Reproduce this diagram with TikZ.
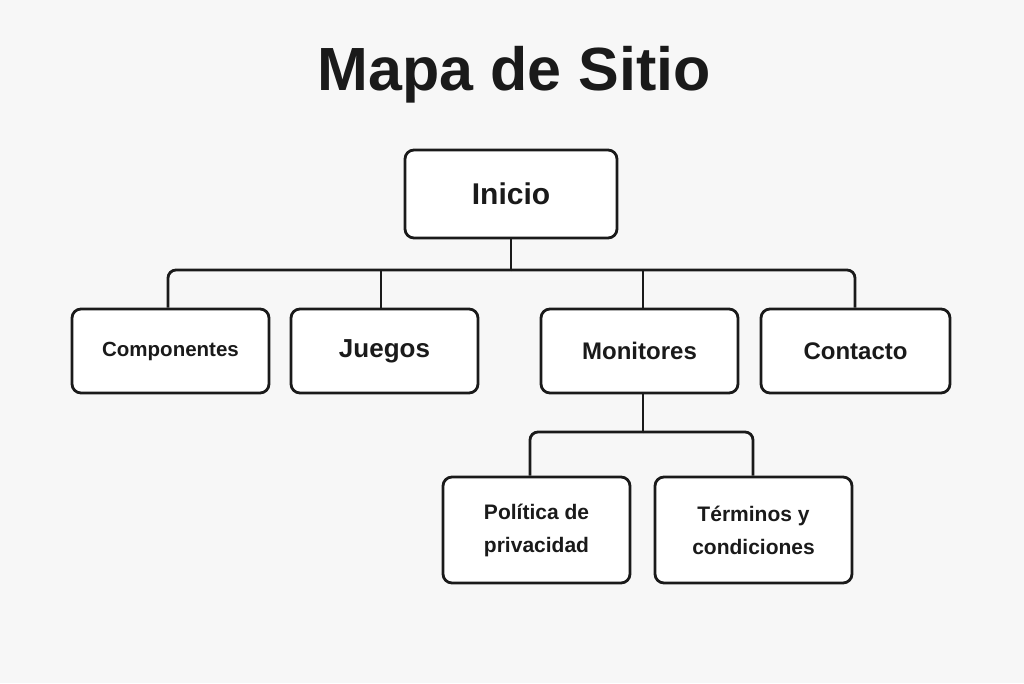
\documentclass[tikz,border=0pt]{standalone}
\usepackage{fontspec}
\setmainfont{Liberation Sans}
\definecolor{bg}{HTML}{F7F7F7}
\definecolor{ink}{HTML}{1A1A1A}
\begin{document}
\begin{tikzpicture}[x=1pt,y=-1pt,
  box/.style={draw=ink,line width=2.8pt,rounded corners=9pt,fill=white,align=center,text=ink,inner sep=0pt},
  link/.style={draw=ink,line width=2.8pt,rounded corners=8pt}]
\fill[bg] (0,0) rectangle (1024,683);
\useasboundingbox (0,0) rectangle (1024,683);
\node[text=ink,font=\bfseries\fontsize{61}{66}\selectfont] (title) at (514,75) {Mapa de Sitio};
\node[box,minimum width=212pt,minimum height=88pt,font=\bfseries\fontsize{30}{36}\selectfont] (ini) at (511,194) {Inicio};
\node[box,minimum width=197pt,minimum height=84pt,font=\bfseries\fontsize{20.5}{26}\selectfont] (comp) at (170.5,351) {Componentes};
\node[box,minimum width=187pt,minimum height=84pt,font=\bfseries\fontsize{26}{30}\selectfont] (jue) at (384.5,351) {Juegos};
\node[box,minimum width=197pt,minimum height=84pt,font=\bfseries\fontsize{24}{30}\selectfont] (mon) at (639.5,351) {Monitores};
\node[box,minimum width=189pt,minimum height=84pt,font=\bfseries\fontsize{24}{30}\selectfont] (con) at (855.5,351) {Contacto};
\node[box,minimum width=187pt,minimum height=106pt,font=\bfseries\fontsize{21}{33}\selectfont] (pol) at (536.5,530) {Política de\\privacidad};
\node[box,minimum width=197pt,minimum height=106pt,font=\bfseries\fontsize{21}{33}\selectfont] (ter) at (753.5,530) {Términos y\\condiciones};
\coordinate (bus) at (511,270);
\coordinate (bus2) at (643,432);
\draw[link] (ini.south) -- (bus);
\draw[link] ([xshift=-2.5pt]comp.north) |- (bus);
\draw[link] ([xshift=-3.5pt]jue.north) -- ([xshift=-3.5pt]jue.north |- bus);
\draw[link] ([xshift=3.5pt]mon.north) -- ([xshift=3.5pt]mon.north |- bus);
\draw[link] ([xshift=-0.5pt]con.north) |- (bus);
\draw[link] ([xshift=3.5pt]mon.south) -- (bus2);
\draw[link] ([xshift=-6.5pt]pol.north) |- (bus2);
\draw[link] ([xshift=-0.5pt]ter.north) |- (bus2);
\end{tikzpicture}
\end{document}
